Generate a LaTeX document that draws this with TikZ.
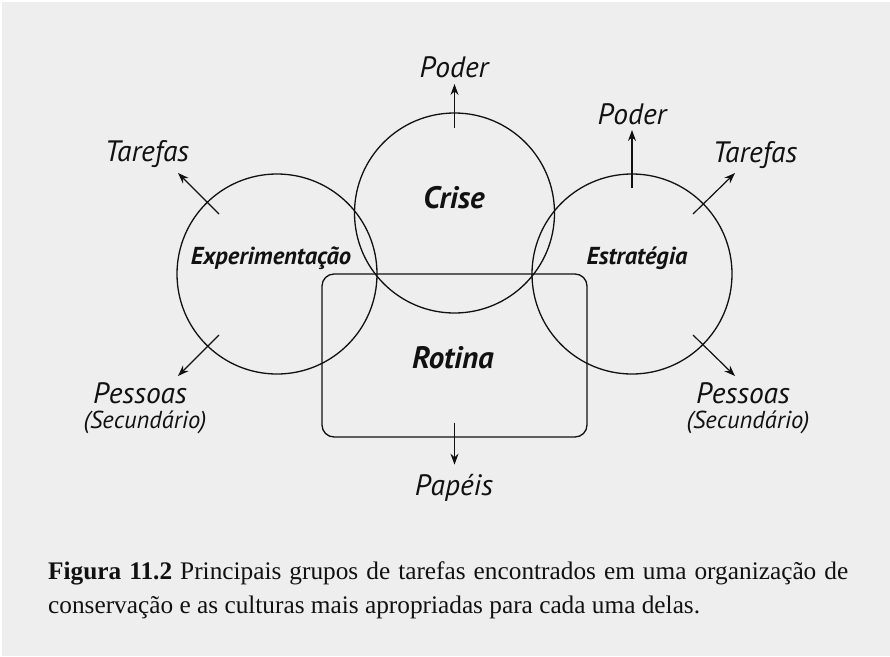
\documentclass[tikz,border=0pt]{standalone}
\usepackage{fontspec}
\setmainfont{Liberation Serif}
\newfontfamily\hand{PT Sans}
\usetikzlibrary{arrows.meta,calc}
\definecolor{bg}{HTML}{EEEEEE}
\definecolor{ink}{HTML}{111111}
\tikzset{
  shapeline/.style={draw=ink, line width=1.3pt},
  ring/.style={shapeline, circle, minimum size=200pt, inner sep=0pt},
  box/.style={shapeline, rectangle, rounded corners=12pt, minimum width=265pt, minimum height=163pt, inner sep=0pt},
  conn/.style={draw=ink, line width=1.2pt, -{Stealth[length=11pt,width=8pt]}},
  biglab/.style={text=ink, font=\hand\bfseries\itshape\fontsize{31}{34}\selectfont, inner sep=0pt},
  midlab/.style={text=ink, font=\hand\bfseries\itshape\fontsize{24.5}{28}\selectfont, inner sep=0pt},
  outlab/.style={text=ink, font=\hand\itshape\fontsize{29.5}{32}\selectfont, inner sep=0pt},
  sublab/.style={text=ink, font=\hand\itshape\fontsize{24.5}{28}\selectfont, inner sep=0pt},
}
\begin{document}
\begin{tikzpicture}[x=1pt,y=-1pt]
\fill[white] (0,0) rectangle (890,656);
\fill[bg] (1.5,1.5) rectangle (890,656);
\useasboundingbox (0,0) rectangle (890,656);

% shapes
\node[ring] (exp) at (277,274) {};
\node[ring] (cri) at (454.5,213) {};
\node[ring] (est) at (632,274) {};
\node[box] (rot) at (454.5,355.5) {};

% inner labels
\node[midlab] (expL) at (271,258) {Experimentação};
\node[biglab] (criL) at (454,198) {Crise};
\node[midlab] (estL) at (637,258) {Estratégia};
\node[biglab] (rotL) at (453,358) {Rotina};

% outer labels
\node[outlab] (poder1) at (454,67) {Poder};
\node[outlab] (poder2) at (632,114) {Poder};
\node[outlab] (tarL) at (147,154) {Tarefas};
\node[outlab] (tarR) at (755,155) {Tarefas};
\node[outlab] (pesL) at (140,393) {Pessoas};
\node[sublab] (secL) at (145,422) {(Secundário)};
\node[outlab] (pesR) at (743,393) {Pessoas};
\node[sublab] (secR) at (748,422) {(Secundário)};
\node[outlab] (pap) at (454,488) {Papéis};

% arrow anchor coordinates
\coordinate (c1a) at ($(cri.center)+(0,-85)$);
\coordinate (c1b) at ($(cri.center)+(0,-129)$);
\coordinate (e1a) at ($(est.center)+(0,-86)$);
\coordinate (e1b) at ($(est.center)+(0,-144)$);
\coordinate (e2a) at ($(est.center)+(61,-60)$);
\coordinate (e2b) at ($(est.center)+(103,-101)$);
\coordinate (e3a) at ($(est.center)+(61,61)$);
\coordinate (e3b) at ($(est.center)+(103,102)$);
\coordinate (x1a) at ($(exp.center)+(-58,-60)$);
\coordinate (x1b) at ($(exp.center)+(-99,-101)$);
\coordinate (x2a) at ($(exp.center)+(-58,61)$);
\coordinate (x2b) at ($(exp.center)+(-99,102)$);
\coordinate (r1a) at ($(rot.south)+(0,-15)$);
\coordinate (r1b) at ($(rot.south)+(0,27)$);

\draw[conn] (c1a) -- (c1b);
\draw[conn] (e1a) -- (e1b);
\draw[conn] (e2a) -- (e2b);
\draw[conn] (e3a) -- (e3b);
\draw[conn] (x1a) -- (x1b);
\draw[conn] (x2a) -- (x2b);
\draw[conn] (r1a) -- (r1b);

% caption
\node[anchor=north west, inner sep=0pt, text width=800pt, align=justify, text=ink,
      font=\fontsize{25.3}{34}\selectfont] (cap) at (48,561)
  {\textbf{Figura 11.2} Principais grupos de tarefas encontrados em uma organização de\linebreak
   conservação e as culturas mais apropriadas para cada uma delas.};
\end{tikzpicture}
\end{document}
